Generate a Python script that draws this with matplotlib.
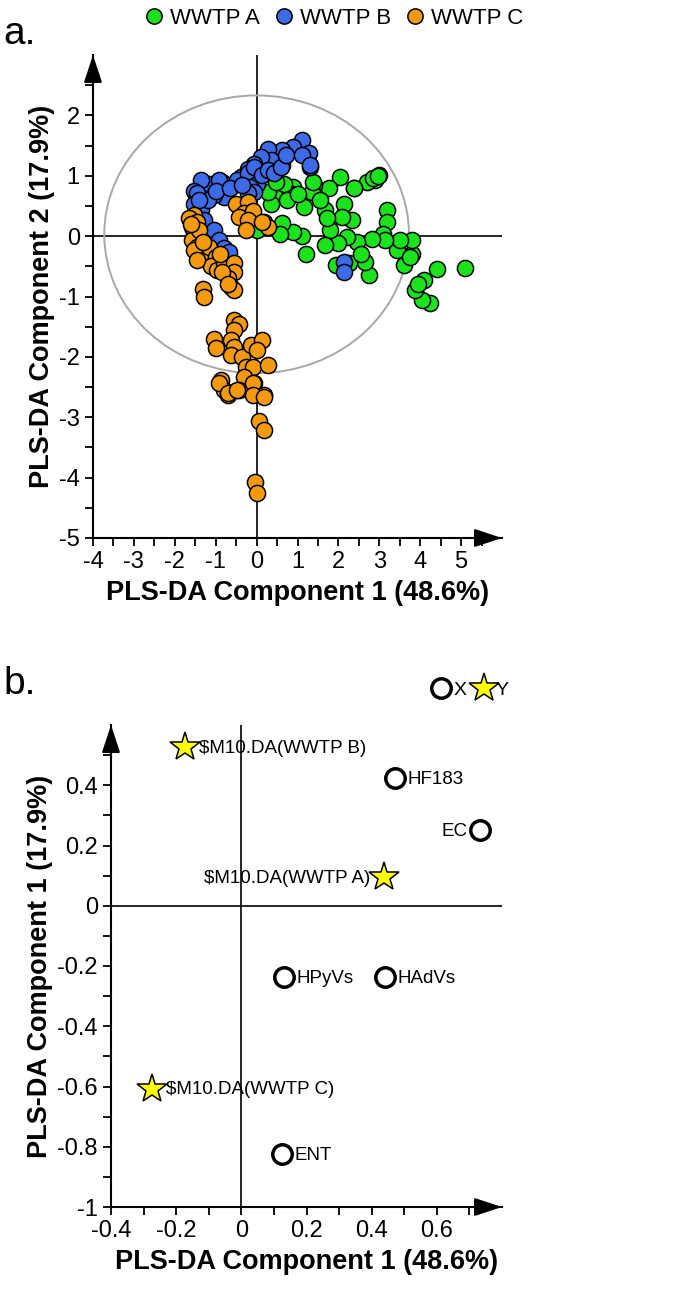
import numpy as np
import matplotlib
matplotlib.use("Agg")
import matplotlib.pyplot as plt
from matplotlib.patches import Ellipse
from matplotlib.lines import Line2D

plt.rcParams['font.family'] = ['Liberation Sans', 'DejaVu Sans']
plt.rcParams['axes.unicode_minus'] = False

# ---- panel a: PLS-DA scores ----
green_x = [5.1, 4.41, 4.24, 4.04, 3.88, 4.1, 3.8, 3.8, 3.6, 3.43, 3.5, 3.2, 3.2, 3.1, 3.15,
           2.82, 3.0, 2.9, 2.7, 2.74, 2.66, 2.46, 2.37, 2.33, 2.25, 2.21, 2.13, 2.05, 2.09,
           2.0, 1.93, 1.8, 1.76, 1.68, 1.72, 1.68, 1.4, 1.36, 1.16, 1.2, 1.11, 0.9, 0.9, 0.83,
           0.63, 0.58, 0.47, 0.35, 0.27, 0.18, 0.02, 0.66, 0.47, 2.85, 2.98, 1.39, 2.37,
           3.75, 3.95, 2.55, 1.55, 0.75, 1.0]
green_y = [-0.52, -0.55, -1.11, -1.06, -0.89, -0.73, -0.29, -0.07, -0.48, -0.23, -0.07, 0.43,
           0.24, 0.04, -0.07, -0.04, 1.01, 0.93, 0.9, -0.65, -0.43, -0.1, 0.79, 0.27, -0.45,
           -0.01, 0.54, 0.98, 0.32, -0.12, -0.48, 0.1, 0.79, 0.43, 0.3, -0.15, 0.85, 0.73,
           0.48, -0.29, 0.01, 0.07, 0.82, 0.7, 0.21, 0.04, 0.7, 0.54, 0.73, 0.24, 0.1, 0.87,
           0.9, 0.97, 1.0, 0.9, 0.79, -0.35, -0.8, -0.3, 0.6, 0.6, 0.7]

blue_x = [1.11, 0.9, 1.27, 1.31, 0.63, 0.63, 0.27, 0.35, 0.1, -0.06, 0.02, -0.22, -0.39,
          -0.47, -0.84, -1.16, -1.37, -1.53, -0.92, -0.79, -1.04, -1.45, -1.53, -1.37, -1.28,
          -1.04, -0.92, -0.79, -0.67, -0.47, -0.22, -0.06, 0.02, -0.15, 0.14, 0.27, 0.43, 0.6,
          0.72, 1.1, 1.3, -0.06, -0.22, 2.13, 2.13, -1.2, -1.0, -0.65, -1.4, -0.35]
blue_y = [1.59, 1.48, 1.37, 1.15, 1.42, 1.17, 1.45, 1.26, 1.31, 1.2, 1.04, 1.12, 0.98, 0.9,
          0.9, 0.87, 0.93, 0.74, 0.93, 0.65, 0.68, 0.71, 0.54, 0.43, 0.27, 0.1, -0.07, -0.2,
          -0.26, 0.93, 1.04, 1.15, 0.87, 0.82, 1.01, 1.09, 1.04, 1.15, 1.34, 1.34, 1.18, 0.73,
          0.71, -0.43, -0.59, 0.6, 0.75, 0.8, 0.6, 0.85]

orange_x = [-1.53, -1.65, -1.45, -1.57, -1.53, -1.57, -1.45, -1.37, -1.53, -1.16, -0.99,
            -1.12, -0.96, -0.79, -0.55, -0.55, -0.71, -0.84, -0.63, -0.55, -1.32, -1.28,
            -0.51, -0.22, -0.3, -0.1, -0.43, -0.22, -0.26, 0.27, 0.14,
            -0.55, -0.43, -0.55, -1.04, -1.0, -0.63, -0.55, -0.63, -0.35, -0.14, 0.14, 0.02,
            -0.26, -0.1, 0.27, -0.3, -0.88, -0.8, -0.71, -0.43, -0.06, 0.18, -0.18,
            -0.92, -0.71, -0.47, -0.1, -0.1, 0.18, 0.06, 0.18, -0.05, 0.02,
            -1.4, -1.3, -1.6, -1.45, -0.9, -0.7]
orange_y = [0.35, 0.3, 0.24, 0.15, 0.04, -0.07, -0.18, -0.29, -0.23, -0.18, -0.34, -0.5,
            -0.56, -0.45, -0.45, -0.6, -0.7, -0.6, -0.84, -0.9, -0.87, -1.0,
            0.54, 0.57, 0.38, 0.41, 0.32, 0.27, 0.1, 0.15, 0.24,
            -1.39, -1.45, -1.56, -1.7, -1.86, -1.72, -1.83, -1.97, -2.0, -1.8, -1.72, -1.89,
            -2.16, -2.16, -2.14, -2.33, -2.38, -2.55, -2.63, -2.55, -2.44, -2.63, -2.55,
            -2.44, -2.6, -2.55, -2.44, -2.63, -2.66, -3.07, -3.21, -4.07, -4.26,
            0.1, -0.1, 0.2, -0.4, -0.3, -0.8]

groups = ["WWTP A", "WWTP B", "WWTP C"]
colors = ["#1BE31B", "#3D6BE8", "#F59A0F"]

# ---- panel b: loadings ----
var_names = ["HF183", "EC", "HPyVs", "HAdVs", "ENT"]
var_x = [0.472, 0.733, 0.13, 0.442, 0.125]
var_y = [0.425, 0.252, -0.236, -0.236, -0.823]
var_side = ["right", "left", "right", "right", "right"]

cls_names = ["$M10.DA(WWTP B)", "$M10.DA(WWTP A)", "$M10.DA(WWTP C)"]
cls_x = [-0.172, 0.437, -0.274]
cls_y = [0.528, 0.096, -0.607]
cls_side = ["right", "left", "right"]

fig = plt.figure(figsize=(6.8, 13.06), dpi=100)
W, H = 680, 1306


def make_axes(x0, x1, y_top, y_bot):
    return fig.add_axes([x0 / W, 1 - y_bot / H, (x1 - x0) / W, (y_bot - y_top) / H])


def style_axes(ax):
    for s in ["top", "right"]:
        ax.spines[s].set_visible(False)
    for s in ["left", "bottom"]:
        ax.spines[s].set_linewidth(1.5)
    ax.tick_params(which="both", direction="out", width=1.3, length=6, labelsize=17)
    ax.annotate("", xy=(1, 0), xytext=(0.93, 0), xycoords="axes fraction",
                arrowprops=dict(arrowstyle="-|>,head_length=0.85,head_width=0.28",
                                mutation_scale=20, color="k", lw=1.5,
                                shrinkA=0, shrinkB=0), annotation_clip=False)
    ax.annotate("", xy=(0, 1), xytext=(0, 0.93), xycoords="axes fraction",
                arrowprops=dict(arrowstyle="-|>,head_length=0.85,head_width=0.28",
                                mutation_scale=20, color="k", lw=1.5,
                                shrinkA=0, shrinkB=0), annotation_clip=False)
    ax.axhline(0, color="k", lw=1.2, zorder=1)
    ax.axvline(0, color="k", lw=1.2, zorder=1)


# panel a
ax1 = make_axes(93, 502, 55, 538)
style_axes(ax1)
ax1.set_xlim(-4, 6)
ax1.set_ylim(-5, 3)
ax1.set_xticks(np.arange(-4, 6, 1))
ax1.set_xticks(np.arange(-4, 5.6, 0.5), minor=True)
ax1.set_yticks(np.arange(-5, 3, 1))
ax1.set_yticks(np.arange(-5, 2.6, 0.5), minor=True)
ax1.add_patch(Ellipse((0, 0.03), 7.45, 4.6, fill=False, ec="#A8A8A8", lw=1.4, zorder=1))
for gx, gy, c in [(green_x, green_y, colors[0]), (blue_x, blue_y, colors[1]),
                  (orange_x, orange_y, colors[2])]:
    ax1.scatter(gx, gy, s=135, c=c, edgecolors="k", linewidths=1.1, zorder=3)
ax1.set_xlabel("PLS-DA Component 1 (48.6%)", fontsize=19.5, fontweight="bold", labelpad=5)
ax1.set_ylabel("PLS-DA Component 2 (17.9%)", fontsize=19.5, fontweight="bold", labelpad=3)

handles = [Line2D([], [], ls="", marker="o", ms=11, mfc=c, mec="k", mew=1.1) for c in colors]
fig.legend(handles, groups, loc="center", bbox_to_anchor=(332 / W, 1 - 18 / H), ncol=3,
           frameon=False, fontsize=16, handletextpad=0.1, columnspacing=0.5,
           borderaxespad=0, handlelength=1.2)
fig.text(3 / W, 1 - 44 / H, "a.", fontsize=28, va="baseline")

# panel b
ax2 = make_axes(111, 502, 725, 1207)
style_axes(ax2)
ax2.set_xlim(-0.4, 0.8)
ax2.set_ylim(-1, 0.6)
ax2.set_xticks(np.arange(-0.4, 0.61, 0.2))
ax2.set_xticks(np.arange(-0.4, 0.71, 0.1), minor=True)
ax2.set_yticks(np.arange(-1, 0.41, 0.2))
ax2.set_yticks(np.arange(-1, 0.51, 0.1), minor=True)
ax2.xaxis.set_major_formatter(plt.FuncFormatter(lambda v, p: "0" if abs(v) < 1e-9 else f"{v:g}"))
ax2.yaxis.set_major_formatter(plt.FuncFormatter(lambda v, p: "0" if abs(v) < 1e-9 else f"{v:g}"))

ax2.plot(var_x, var_y, ls="", marker="o", ms=14, mfc="white", mec="k", mew=2.5, zorder=3)
ax2.plot(cls_x, cls_y, ls="", marker="*", ms=22, mfc="#FFFF00", mec="k", mew=1.1, zorder=3)
for names, xs, ys, sides, off in [(var_names, var_x, var_y, var_side, 9),
                                  (cls_names, cls_x, cls_y, cls_side, 10)]:
    for n, x, y, sd in zip(names, xs, ys, sides):
        dx = off if sd == "right" else -off
        ax2.annotate(n, (x, y), xytext=(dx, -1), textcoords="offset points",
                     ha="left" if sd == "right" else "right", va="center", fontsize=13.5)

ax2.set_xlabel("PLS-DA Component 1 (48.6%)", fontsize=19.5, fontweight="bold", labelpad=5)
ax2.set_ylabel("PLS-DA Component 1 (17.9%)", fontsize=19.5, fontweight="bold", labelpad=3)

h2 = [Line2D([], [], ls="", marker="o", ms=14, mfc="white", mec="k", mew=2.5),
      Line2D([], [], ls="", marker="*", ms=22, mfc="#FFFF00", mec="k", mew=1.1)]
fig.legend(h2, ["X", "Y"], loc="center", bbox_to_anchor=(469 / W, 1 - 690 / H), ncol=2,
           frameon=False, fontsize=14, handletextpad=0.0, columnspacing=0.3,
           borderaxespad=0, handlelength=1.2)
fig.text(3 / W, 1 - 694 / H, "b.", fontsize=28, va="baseline")

fig.savefig("out.png", dpi=100)
